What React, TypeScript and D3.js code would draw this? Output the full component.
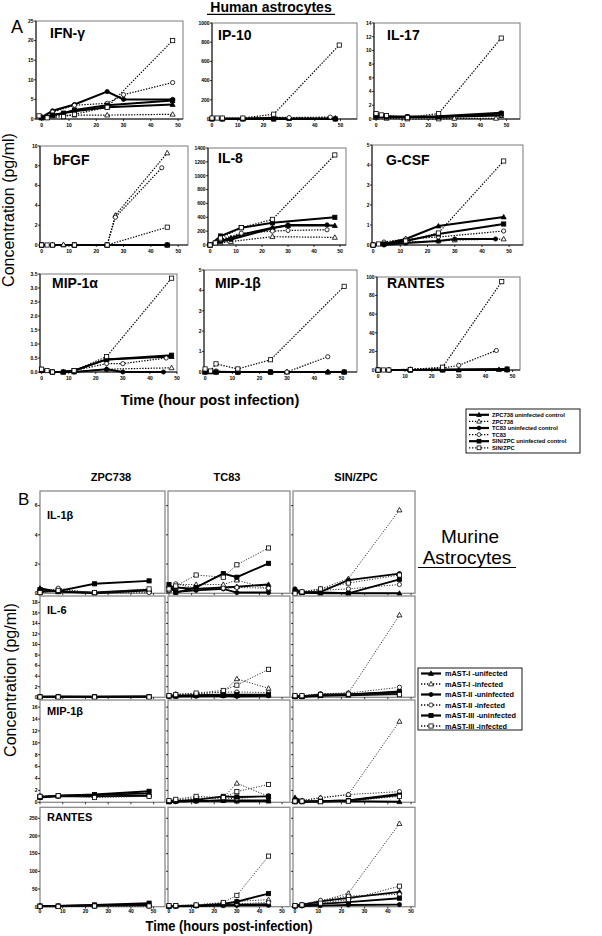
import React from "react";
import * as d3 from "d3";

type Pt = [number, number];

// ---------------- shared series styling keys ----------------
const humanLegend = [
  "ZPC738 uninfected control",
  "ZPC738",
  "TC83 uninfected control",
  "TC83",
  "SIN/ZPC uninfected control",
  "SIN/ZPC",
];
const murineLegend = [
  "mAST-I -unifected",
  "mAST-I -infected",
  "mAST-II -uninfected",
  "mAST-II -infected",
  "mAST-III -uninfected",
  "mAST-III -infected",
];
const markerShapes = ["triangle", "triangle", "circle", "circle", "square", "square"];
const markerFilled = [true, false, true, false, true, false];
const lineDotted = [false, true, false, true, false, true];
const hourTicks = [0, 10, 20, 30, 40, 50];

// ---------------- Panel A: human astrocytes ([hour, pg/ml]) ----------------
const humanTitles = ["IFN-γ", "IP-10", "IL-17", "bFGF", "IL-8", "G-CSF", "MIP-1α", "MIP-1β", "RANTES"];
const humanYMax = [25, 1000, 14, 10, 1400, 5, 3.5, 5, 100];
const humanYStep = [5, 200, 2, 2, 200, 1, 0.5, 1, 20];

const ifnGamma: Pt[][] = [
  [[0, 0.4], [4, 1], [12, 2], [24, 3], [48, 3.7]],
  [[0, 0.3], [4, 0.8], [12, 1], [24, 1], [48, 1.2]],
  [[0, 0.5], [4, 2.1], [12, 3.7], [24, 7], [30, 5], [48, 5]],
  [[0, 0.5], [4, 1.8], [12, 3.5], [24, 4], [30, 6.2], [48, 9.3]],
  [[0, 0.3], [4, 1], [8, 1.5], [12, 2.3], [24, 3.5], [48, 4.7]],
  [[-1, 0.8], [2, 0.3], [8, 0.6], [12, 1.2], [24, 3], [48, 20]],
];
const ip10: Pt[][] = [
  [[0, 5], [4, 5], [12, 5], [24, 10], [30, 5], [48, 5]],
  [[0, 5], [4, 5], [12, 5], [24, 10], [48, 10]],
  [[0, 0], [4, 0], [12, 0], [24, 0], [48, 0]],
  [[0, 5], [4, 5], [12, 5], [24, 20], [30, 15], [46, 20]],
  [[0, 0], [4, 0], [12, 0], [24, 0], [48, 0]],
  [[0, 10], [2, 10], [4, 10], [12, 10], [24, 50], [49.5, 770]],
];
const il17: Pt[][] = [
  [[0, 0.5], [4, 0.4], [12, 0.3], [24, 0.3], [48, 0.5]],
  [[0, 0.2], [4, 0.1], [12, 0], [24, 0], [30, 0.1], [46, 0.1]],
  [[0, 0.3], [4, 0.3], [12, 0.35], [24, 0.4], [48, 0.9]],
  [[0, 0.8], [4, 0.4], [12, 0.3], [24, 0.4], [48, 0.6]],
  [[0, 0.5], [4, 0.3], [12, 0.3], [24, 0.3], [48, 0.8]],
  [[0, 0.8], [2, 0.6], [4, 0.5], [12, 0.2], [24, 0.8], [48, 11.8]],
];
const bfgf: Pt[][] = [
  [[0, 0], [4, 0], [8, 0], [12, 0], [24, 0], [46, 0]],
  [[0, 0], [4, 0], [8, 0.05], [12, 0], [24, 0], [27, 3], [46, 9.3]],
  [[0, 0], [12, 0], [24, 0], [46, 0]],
  [[0, 0], [4, 0], [12, 0], [24, 0], [27, 2.8], [44, 7.8]],
  [[0, 0], [12, 0], [24, 0], [46, 0]],
  [[0, 0], [2, 0], [4, 0], [12, 0], [24, 0], [46, 1.8]],
];
const il8: Pt[][] = [
  [[0, 0], [4, 60], [8, 100], [12, 150], [24, 250], [30, 280], [48, 280]],
  [[0, 0], [4, 30], [8, 50], [24, 120], [48, 110]],
  [[0, 0], [4, 50], [8, 80], [24, 240], [30, 290], [45, 290]],
  [[0, 0], [4, 80], [12, 170], [24, 200], [30, 210], [45, 220]],
  [[0, 0], [4, 130], [12, 250], [24, 320], [48, 400]],
  [[0, 0], [2, 30], [4, 100], [12, 250], [24, 370], [48, 1300]],
];
const gcsf: Pt[][] = [
  [[0, 0], [4, 0.05], [12, 0.3], [24, 0.95], [48, 1.4]],
  [[0, 0], [4, 0.1], [12, 0.15], [24, 0.2], [30, 0.25], [48, 0.3]],
  [[0, 0], [4, 0], [12, 0.1], [24, 0.2], [30, 0.3], [45, 0.3]],
  [[0, 0], [4, 0.15], [12, 0.3], [24, 0.4], [48, 0.7]],
  [[0, 0], [4, 0.05], [12, 0.2], [24, 0.55], [48, 1.05]],
  [[0, 0], [2, 0.05], [12, 0.2], [24, 0.6], [48, 4.2]],
];
const mip1a: Pt[][] = [
  [[0, 0.05], [4, 0], [8, 0], [12, 0.05], [24, 0.45], [48, 0.55]],
  [[0, 0.05], [4, 0], [8, 0], [12, 0], [24, 0.1], [48, 0.15]],
  [[0, 0.1], [4, 0], [12, 0], [24, 0.1], [30, 0], [45, 0]],
  [[0, 0.05], [4, 0], [12, 0.05], [24, 0.3], [30, 0.3], [46, 0.5]],
  [[0, 0.05], [4, 0], [8, 0], [12, 0.05], [24, 0.45], [48, 0.6]],
  [[0, 0.1], [2, 0.05], [4, 0], [12, 0.05], [24, 0.55], [48, 3.35]],
];
const mip1b: Pt[][] = [
  [[0, 0], [2, 0], [4, 0], [12, 0], [24, 0], [30, 0], [45, 0], [51, 0]],
  [[0, 0], [4, 0], [12, 0], [24, 0], [30, 0], [45, 0]],
  [[0, 0], [4, 0], [12, 0], [24, 0], [45, 0], [51, 0]],
  [[0, 0.1], [4, 0.05], [12, 0], [24, 0], [30, 0], [45, 0.75]],
  [[0, 0], [4, 0], [12, 0], [24, 0], [51, 0]],
  [[0, 0.15], [2, 0.05], [4, 0.4], [12, 0.15], [24, 0.6], [51, 4.2]],
];
const rantesHuman: Pt[][] = [
  [[0, 0], [4, 0], [12, 0], [24, 0], [30, 0], [45, 0.5], [48, 1]],
  [[0, 0], [4, 0], [12, 0], [24, 0], [48, 0]],
  [[0, 0], [12, 0], [24, 0], [48, 0]],
  [[0, 0], [4, 0], [12, 1], [24, 2], [30, 5], [44, 21]],
  [[0, 0], [12, 0], [24, 0.5], [48, 1]],
  [[0, 0], [2, 0], [4, 0], [12, 0.5], [24, 3], [46, 95]],
];
const humanData = [ifnGamma, ip10, il17, bfgf, il8, gcsf, mip1a, mip1b, rantesHuman];

// ---------------- Panel B: murine astrocytes ----------------
const murineColumns = ["ZPC738", "TC83", "SIN/ZPC"];
const murineTitles = ["IL-1β", "IL-6", "MIP-1β", "RANTES"];
const murineYMax = [7, 19.2, 17.2, 281];
const murineYStep = [2, 2, 2, 50];
const hoursZpc = [0, 8, 24, 48];
const hoursTc = [0, 3, 12, 24, 30, 44];
const hoursSin = [0, 3, 11, 23, 45];

const il1bZpc = [
  [0.35, 0.1, 0.05, 0.25], [0.05, 0.3, 0, 0.15], [0.1, 0.15, 0, 0.2],
  [0, 0.35, 0, 0.05], [0.25, 0.15, 0.65, 0.85], [0.05, 0.2, 0.05, 0.3],
];
const il1bTc = [
  [0.5, 0.4, 0.3, 0.4, 0.45, 0.6], [0.2, 0.6, 0.6, 0.6, 0.9, 0.3], [0.4, 0.1, 0.2, 0.3, 0.05, 0.05],
  [0.2, 0.65, 0.35, 0.35, 0.4, 0.35], [0.6, 0.05, 0.4, 1.35, 1.1, 2.05], [0.3, 0.5, 1.25, 1.1, 1.95, 3.1],
];
const il1bSin = [
  [0.1, 0.05, 0, 0, 0], [0.1, 0.1, 0.3, 1.0, 5.7], [0.3, 0.05, 0.1, 0.9, 1.35],
  [0.05, 0.1, 0.2, 0.3, 0.6], [0.1, 0.05, 0.05, 0, 0.95], [0, 0.1, 0.3, 0.7, 1.25],
];
const il6Zpc = [
  [0.1, 0.1, 0.1, 0.1], [0.1, 0.15, 0.1, 0.1], [0.05, 0.1, 0.05, 0.1],
  [0.1, 0.1, 0.1, 0.1], [0.1, 0.1, 0.1, 0.15], [0.05, 0.05, 0.05, 0.05],
];
const il6Tc = [
  [0.2, 0.2, 0.3, 0.3, 0.3, 0.4], [0.3, 0.6, 0.7, 1.0, 3.5, 1.7], [0.2, 0.2, 0.2, 0.3, 0.2, 0.3],
  [0.2, 0.5, 0.6, 1.0, 1.0, 0.9], [0.3, 0.3, 0.4, 0.5, 0.5, 0.5], [0.3, 0.5, 0.8, 1.3, 2.3, 5.3],
];
const il6Sin = [
  [0.1, 0.1, 0.3, 0.4, 0.6], [0.3, 0.3, 0.6, 0.8, 15.6], [0.3, 0.1, 0.5, 0.6, 0.9],
  [0.2, 0.3, 0.7, 0.8, 1.9], [0.2, 0.2, 0.4, 0.5, 1.1], [0.3, 0.3, 0.5, 0.6, 0.5],
];
const mip1bZpc = [
  [0.8, 1.1, 1.2, 1.5], [1.0, 1.1, 1.1, 1.2], [0.9, 1.0, 1.0, 1.1],
  [1.1, 1.1, 1.0, 1.0], [0.9, 1.1, 1.3, 1.85], [1.0, 1.1, 0.8, 1.0],
];
const mip1bTc = [
  [0.1, 0.2, 0.2, 0.3, 0.2, 0.2], [0.2, 0.3, 0.5, 0.8, 3.2, 1.0], [0.1, 0.1, 0.2, 0.3, 0.3, 0.3],
  [0.2, 0.4, 0.7, 0.7, 0.6, 1.1], [0.1, 0.2, 0.4, 1.0, 0.9, 1.0], [0.3, 0.5, 1.0, 0.8, 1.8, 3.0],
];
const mip1bSin = [
  [0.8, 0.2, 0.1, 0.2, 0.1], [0.1, 0.3, 0.8, 1.3, 13.6], [0.4, 0.1, 0.2, 0.3, 1.4],
  [0.2, 0.3, 0.7, 1.3, 1.8], [0.1, 0.1, 0.2, 0.3, 1.2], [0.2, 0.2, 0.1, 0.2, 1.0],
];
const rantesZpc = [
  [2, 2, 4, 6], [1, 1, 2, 3], [1, 1, 3, 5],
  [0, 1, 1, 1], [2, 2, 5, 10], [1, 1, 2, 2],
];
const rantesTc = [
  [1, 2, 3, 5, 6, 7], [2, 3, 5, 10, 15, 20], [1, 1, 2, 3, 4, 4],
  [2, 3, 4, 6, 8, 12], [2, 2, 3, 8, 14, 37], [3, 3, 5, 12, 32, 143],
];
const rantesSin = [
  [3, 6, 15, 25, 42], [3, 5, 15, 38, 235], [1, 2, 3, 5, 6],
  [3, 6, 18, 30, 35], [2, 4, 8, 13, 24], [3, 5, 10, 20, 58],
];
const murineHours = [hoursZpc, hoursTc, hoursSin];
const murineData = [
  [il1bZpc, il1bTc, il1bSin],
  [il6Zpc, il6Tc, il6Sin],
  [mip1bZpc, mip1bTc, mip1bSin],
  [rantesZpc, rantesTc, rantesSin],
];

// ---------------- layout ----------------
const humanBoxes = [
  [36, 21, 183, 119], [212, 23, 357, 119], [374, 23, 520, 119],
  [40, 146, 188, 245], [208, 148, 346, 245], [372, 145, 523, 245],
  [40, 274, 177, 372], [204, 270, 357, 372], [377, 277, 520, 370],
];
const humanXDomains = [
  [-2.1, 51.8], [0, 56.4], [-0.8, 55.2],
  [-0.6, 53.6], [-0.8, 52.3], [-0.4, 55.1],
  [-0.6, 50], [-0.4, 55.7], [-0.4, 52.8],
];
const humanTitlePos = [
  [50, 38], [218, 40], [387, 40],
  [53, 165], [218, 163], [386, 165],
  [52, 288], [215, 288], [387, 288],
];
const murineColX = [[40, 165], [168, 290], [293, 415]];
const murineColXDomain = [[0, 55], [-0.44, 53.5], [-0.86, 51.7]];
const murineRowY = [[491, 593.3], [596, 697.3], [700, 802.3], [807.3, 906.7]];
const murineTitleY = [519, 614, 715, 821];
const murineHeaderX = [111, 227, 356];

const FONT = "'Liberation Sans', Arial, Helvetica, sans-serif";

function Marker({ shape, filled, cx, cy, s }: any) {
  const fill = filled ? "#000" : "#fff";
  const sw = 0.8;
  if (shape === "circle")
    return <circle cx={cx} cy={cy} r={s / 2} fill={fill} stroke="#000" strokeWidth={sw} />;
  if (shape === "square")
    return <rect x={cx - s / 2} y={cy - s / 2} width={s} height={s} fill={fill} stroke="#000" strokeWidth={sw} />;
  return (
    <polygon
      points={`${cx},${cy - s * 0.62} ${cx - s * 0.6},${cy + s * 0.45} ${cx + s * 0.6},${cy + s * 0.45}`}
      fill={fill}
      stroke="#000"
      strokeWidth={sw}
    />
  );
}

function Panel({
  box, xDomain, yMax, yStep, yFmt, data, showY, showX, boxStroke, boxWidth, blackAxes, ms, dash, dotW, solidW, dotColor, xLabDy,
}: any) {
  const [l, t, r, b] = box;
  const x = d3.scaleLinear().domain(xDomain).range([l, r]);
  const y = d3.scaleLinear().domain([0, yMax]).range([b, t]);
  const yTicks = d3.range(0, yMax + 1e-9, yStep);
  const line = d3.line<Pt>().x((d) => x(d[0])).y((d) => y(d[1]));
  return (
    <g>
      <rect x={l} y={t} width={r - l} height={b - t} fill="#fff" stroke={boxStroke} strokeWidth={boxWidth} />
      {blackAxes && (
        <g>
          <line x1={l} x2={l} y1={t} y2={b} stroke="#000" strokeWidth={0.9} />
          <line x1={l} x2={r} y1={b} y2={b} stroke="#000" strokeWidth={0.9} />
        </g>
      )}
      {yTicks.map((v: number) => (
        <g key={"y" + v}>
          <line x1={l - 2} x2={l} y1={y(v)} y2={y(v)} stroke="#000" strokeWidth={0.8} />
          {showY && (
            <text x={l - 2.5} y={y(v) + 1.8} fontSize={5} fontWeight="bold" textAnchor="end">
              {yFmt(v)}
            </text>
          )}
        </g>
      ))}
      {hourTicks.map((v) => (
        <g key={"x" + v}>
          <line x1={x(v)} x2={x(v)} y1={b} y2={b + 2} stroke="#000" strokeWidth={0.8} />
          {showX && (
            <text x={x(v)} y={b + xLabDy} fontSize={5} fontWeight="bold" textAnchor="middle">
              {v}
            </text>
          )}
        </g>
      ))}
      {data.map((s: Pt[], i: number) => (
        <path
          key={"l" + i}
          d={line(s) || ""}
          fill="none"
          stroke={lineDotted[i] ? dotColor : "#000"}
          strokeWidth={lineDotted[i] ? dotW : solidW}
          strokeDasharray={lineDotted[i] ? dash : undefined}
        />
      ))}
      {data.map((s: Pt[], i: number) =>
        s.map((p, j) => (
          <Marker key={i + "-" + j} shape={markerShapes[i]} filled={markerFilled[i]} cx={x(p[0])} cy={y(p[1])} s={ms} />
        ))
      )}
    </g>
  );
}

function Legend({ box, labels, rowY, lineX, textX, fontSize, scaleX, ms }: any) {
  const [l, t, r, b] = box;
  return (
    <g>
      <rect x={l} y={t} width={r - l} height={b - t} fill="#fff" stroke="#000" strokeWidth={0.9} />
      {labels.map((lab: string, i: number) => {
        const yy = rowY[i];
        const mx = (lineX[0] + lineX[1]) / 2;
        return (
          <g key={lab}>
            <line
              x1={lineX[0]}
              x2={lineX[1]}
              y1={yy}
              y2={yy}
              stroke="#000"
              strokeWidth={lineDotted[i] ? 1.3 : 2.2}
              strokeDasharray={lineDotted[i] ? "1.3,1.7" : undefined}
            />
            <Marker shape={markerShapes[i]} filled={markerFilled[i]} cx={mx} cy={yy} s={ms} />
            <text
              transform={`translate(${textX},${yy + fontSize * 0.36}) scale(${scaleX},1)`}
              fontSize={fontSize}
              fontWeight="bold"
            >
              {lab}
            </text>
          </g>
        );
      })}
    </g>
  );
}

export default function App() {
  const fmtInt = (v: number) => d3.format("d")(v);
  const fmtOne = (v: number) => d3.format(".1f")(v);
  return (
    <svg
      width={602}
      height={936}
      style={{ position: "absolute", left: 0, top: 0, display: "block", background: "#fff" }}
      fontFamily={FONT}
    >
      <rect x={0} y={0} width={602} height={936} fill="#fff" />

      {/* ---------- Panel A ---------- */}
      <text x={271} y={12} fontSize={14} fontWeight="bold" textAnchor="middle">
        Human astrocytes
      </text>
      <line x1={207} x2={335} y1={14.3} y2={14.3} stroke="#000" strokeWidth={1.2} />
      <text x={11} y={33} fontSize={18}>
        A
      </text>
      <text transform="translate(14,210) rotate(-90)" fontSize={16} textAnchor="middle">
        Concentration (pg/ml)
      </text>
      {humanData.map((d, i) => (
        <Panel
          key={"h" + i}
          box={humanBoxes[i]}
          xDomain={humanXDomains[i]}
          yMax={humanYMax[i]}
          yStep={humanYStep[i]}
          yFmt={humanYStep[i] < 1 ? fmtOne : fmtInt}
          data={d}
          showY
          showX
          boxStroke="#7a7a7a"
          boxWidth={1}
          blackAxes
          ms={4.2}
          dash="1.4,1.4"
          dotW={1.2}
          solidW={2}
          dotColor="#000"
          xLabDy={7.5}
        />
      ))}
      {humanTitles.map((tt, i) => (
        <text key={tt} x={humanTitlePos[i][0]} y={humanTitlePos[i][1]} fontSize={14} fontWeight="bold">
          {tt}
        </text>
      ))}
      <text x={210} y={405} fontSize={14.5} fontWeight="bold" textAnchor="middle">
        Time (hour post infection)
      </text>
      <Legend
        box={[466, 409, 580, 453]}
        labels={humanLegend}
        rowY={d3.range(6).map((i) => 414.8 + i * 6.6)}
        lineX={[469, 489]}
        textX={492}
        fontSize={6.2}
        scaleX={0.93}
        ms={3.8}
      />

      {/* ---------- Panel B ---------- */}
      <text x={18} y={505} fontSize={17}>
        B
      </text>
      {murineColumns.map((c, i) => (
        <text key={c} x={murineHeaderX[i]} y={481} fontSize={11} fontWeight="bold" textAnchor="middle">
          {c}
        </text>
      ))}
      <text transform="translate(16,680) rotate(-90)" fontSize={16} textAnchor="middle">
        Concentration (pg/ml)
      </text>
      {murineData.map((row, ri) =>
        row.map((vals, ci) => {
          const hrs = murineHours[ci];
          const series: Pt[][] = vals.map((v) => v.map((val, k) => [hrs[k], val] as Pt));
          return (
            <Panel
              key={"m" + ri + "-" + ci}
              box={[murineColX[ci][0], murineRowY[ri][0], murineColX[ci][1], murineRowY[ri][1]]}
              xDomain={murineColXDomain[ci]}
              yMax={murineYMax[ri]}
              yStep={murineYStep[ri]}
              yFmt={fmtInt}
              data={series}
              showY={ci === 0}
              showX={ri === 3}
              boxStroke="#8a8a8a"
              boxWidth={1.3}
              blackAxes={false}
              ms={4.2}
              dash="1.1,1.6"
              dotW={1}
              solidW={1.9}
              dotColor="#222"
              xLabDy={6.5}
            />
          );
        })
      )}
      {murineTitles.map((tt, i) => (
        <text key={tt} x={47} y={murineTitleY[i]} fontSize={11} fontWeight="bold">
          {tt}
        </text>
      ))}
      <text x={470} y={543} fontSize={19} textAnchor="middle">
        Murine
      </text>
      <text x={467} y={564} fontSize={19} textAnchor="middle">
        Astrocytes
      </text>
      <line x1={418} x2={516} y1={567.5} y2={567.5} stroke="#000" strokeWidth={1.2} />
      <Legend
        box={[418, 668, 522, 730]}
        labels={murineLegend}
        rowY={d3.range(6).map((i) => 673.5 + i * 10.5)}
        lineX={[421, 441]}
        textX={445}
        fontSize={8}
        scaleX={0.92}
        ms={4.2}
      />
      <text x={229} y={931} fontSize={15} fontWeight="bold" textAnchor="middle" textLength={167} lengthAdjust="spacingAndGlyphs">
        Time (hours post-infection)
      </text>
    </svg>
  );
}
